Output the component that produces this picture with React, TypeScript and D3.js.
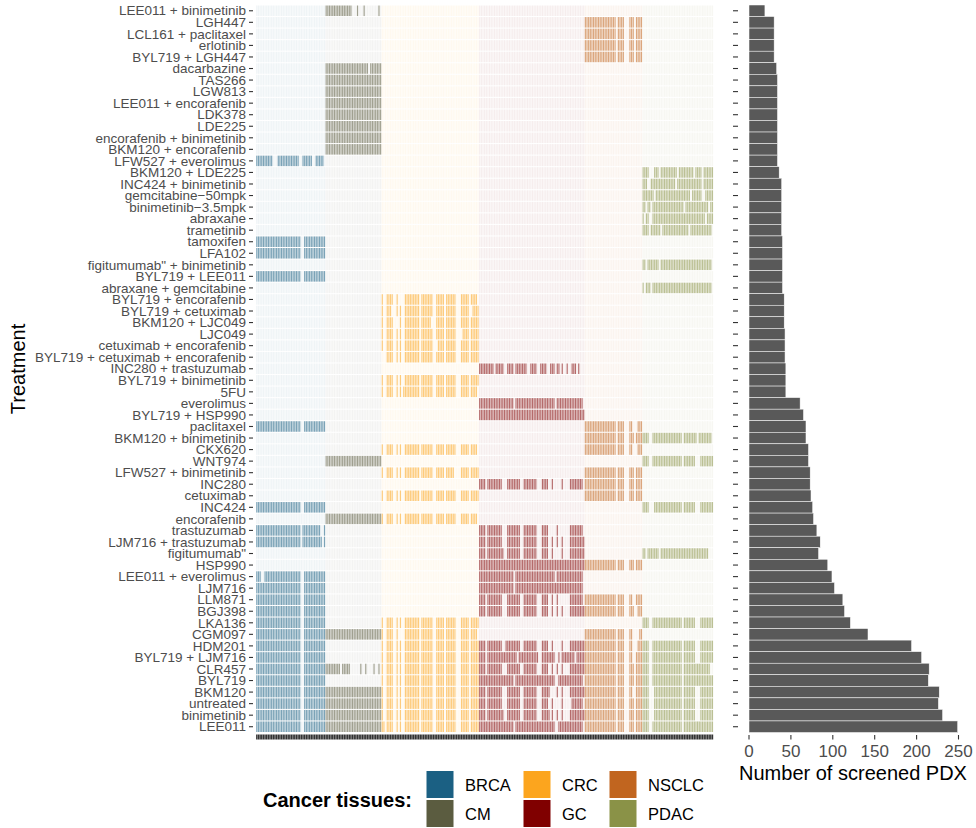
import React, { useEffect, useRef } from 'react';
import * as d3 from 'd3';

// treatments, top to bottom
const treatments = [
  'LEE011 + binimetinib', 'LGH447', 'LCL161 + paclitaxel', 'erlotinib', 'BYL719 + LGH447',
  'dacarbazine', 'TAS266', 'LGW813', 'LEE011 + encorafenib', 'LDK378', 'LDE225',
  'encorafenib + binimetinib', 'BKM120 + encorafenib', 'LFW527 + everolimus', 'BKM120 + LDE225',
  'INC424 + binimetinib', 'gemcitabine\u221250mpk', 'binimetinib\u22123.5mpk', 'abraxane', 'trametinib',
  'tamoxifen', 'LFA102', 'figitumumab" + binimetinib', 'BYL719 + LEE011', 'abraxane + gemcitabine',
  'BYL719 + encorafenib', 'BYL719 + cetuximab', 'BKM120 + LJC049', 'LJC049', 'cetuximab + encorafenib',
  'BYL719 + cetuximab + encorafenib', 'INC280 + trastuzumab', 'BYL719 + binimetinib', '5FU', 'everolimus',
  'BYL719 + HSP990', 'paclitaxel', 'BKM120 + binimetinib', 'CKX620', 'WNT974', 'LFW527 + binimetinib',
  'INC280', 'cetuximab', 'INC424', 'encorafenib', 'trastuzumab', 'LJM716 + trastuzumab', 'figitumumab"',
  'HSP990', 'LEE011 + everolimus', 'LJM716', 'LLM871', 'BGJ398', 'LKA136', 'CGM097', 'HDM201',
  'BYL719 + LJM716', 'CLR457', 'BYL719', 'BKM120', 'untreated', 'binimetinib', 'LEE011',
];

// number of screened PDX per treatment (same order)
const screenedPdx = [
  19, 30, 30, 30, 30, 33, 34, 34, 34, 34, 34, 34, 34, 34, 36, 39, 39, 39, 39, 39,
  40, 40, 40, 40, 40, 42, 42, 42, 43, 43, 43, 44, 44, 44, 61, 65, 68, 68, 71, 71,
  73, 73, 74, 76, 77, 81, 85, 83, 94, 99, 102, 112, 114, 121, 142, 194, 206, 215, 214, 227,
  226, 231, 249,
];

const tissues = ['BRCA', 'CM', 'CRC', 'GC', 'NSCLC', 'PDAC'];
const tissueColors = ['#1B6083', '#5B5C40', '#FCA51E', '#800000', '#C1651F', '#8A9247'];
const modelsPerTissue = [42, 34, 59, 64, 35, 43];

// screened models per treatment: "TISSUE:index ranges|TISSUE:..."
const screenedModels = [
  'CM:0-15,19,23,32',
  'NSCLC:0-18,20-23,27-29,31-34',
  'NSCLC:0-18,20-23,27-29,31-34',
  'NSCLC:0-18,20-23,27-29,31-34',
  'NSCLC:0-18,20-23,27-29,31-34',
  'CM:0-25,27-33',
  'CM:0-33',
  'CM:0-33',
  'CM:0-33',
  'CM:0-33',
  'CM:0-33',
  'CM:0-33',
  'CM:0-33',
  'BRCA:0-9,13-25,28-33,36-40',
  'PDAC:0-3,7-9,11-20,22-30,32-35,37-42',
  'PDAC:0-2,5-19,21-35,37-42',
  'PDAC:0-6,8-28,30-35,38-42',
  'PDAC:0-1,3-4,6-24,26-39,41-42',
  'PDAC:0,2-3,6-37,39-42',
  'PDAC:0-3,5-10,12-27,29-41',
  'BRCA:0-26,29-41',
  'BRCA:0-26,29-41',
  'PDAC:0-1,3-9,11-41',
  'BRCA:0-26,29-41',
  'PDAC:0,2-4,6-41',
  'CRC:0,3-6,9,14-22,24-30,33-37,39-44,48-52,54-57',
  'CRC:0,3-5,9,11,14-22,24-30,33-37,39-44,48-52,55-58',
  'CRC:0,3-6,11,14-22,24-29,33-37,39-44,48-52,54-58',
  'CRC:0,3-6,9,11,14-22,24-30,33-37,39-44,49-52,54-58',
  'CRC:0,3-6,9,11,14-22,24-30,34-37,39-44,48-52,54-58',
  'CRC:3-6,9,11,14-22,24-30,33-37,39-44,48-52,54-58',
  'GC:0-8,10-14,17-20,22-28,31-34,37-40,43-45,47-48,50,53,56-58,60',
  'CRC:0,3-6,9,11,14-22,24-30,33-37,39-44,48-52,54-58',
  'CRC:0,3-6,9,11,13-22,24-30,33-37,39-44,48-52,54-57',
  'GC:0-20,22-45,47-62',
  'GC:0-63',
  'BRCA:0-26,29-41|NSCLC:0-18,20-23,27-28,32-34',
  'NSCLC:0-18,20-23,27-29,31-34|PDAC:0-3,6-23,25-32,34-41',
  'CRC:0,3-6,9,11,14-22,24-30,33-37,39-44,48-52,54-57|NSCLC:0-18,20-23,27-28,32-34',
  'CM:0-33|PDAC:0-3,6-23,25-31,35-42',
  'CRC:0,3-6,9,11,14-22,24-30,33-37,39-43,48-52,54-58|NSCLC:0-18,20-23,27-29,31-34',
  'GC:0-3,5-13,17-24,27-34,38-41,44,50,55-62|NSCLC:0-18,20-23,27-29,31-34',
  'CRC:0,3-6,9,11,14-22,24-30,33-37,39-44,48-52,54-58|NSCLC:0-18,20-23,27-29,31-34',
  'BRCA:0-26,29-41|PDAC:0-3,7-23,25-31,35-42',
  'CM:0-33|CRC:0,3-6,9,11,14-22,24-30,33-37,39-44,48-52,54-57',
  'BRCA:0-26,28-38,41|GC:0-3,5-13,17-24,27-34,38-41,47,55-62',
  'BRCA:0-26,28-39,41|GC:0-3,5-13,17-24,27-34,38-41,44,47,50,55-63',
  'GC:0-3,5-14,17-24,27-34,38-41,44,50,55-63|PDAC:0-1,3-9,11-39',
  'GC:0-63|NSCLC:0-18,20-23,27-29,31-34',
  'BRCA:0-2,5-26,29-41|GC:0-20,22-45,47-62',
  'BRCA:0-26,29-41|GC:0-20,22-62',
  'BRCA:0-26,29-41|GC:0-3,5-13,17-24,27-34,38-41,44,47,55-62|NSCLC:0-18,20-23,27-28,31-34',
  'BRCA:0-26,29-41|GC:0-3,5-13,17-24,27-34,38-41,44,47,50,55-63|NSCLC:0-18,20-23,27-29,32-34',
  'BRCA:0-26,29-41|CRC:0,3-6,9,11,14-22,24-30,33-37,39-44,48-52,54-58|PDAC:0-3,6-23,25-31,35-42',
  'BRCA:0-26,29-41|CM:0-33|CRC:0,3-6,9,14-22,24-30,33-37,39-44,48-52,54-57|NSCLC:0-18,20-23,27-28,33-34',
  'BRCA:0-26,29-41|CRC:0,3-6,9,11,14-22,24-30,33-37,39-44,48-52,54-58|GC:0-3,5-13,16-24,27-34,38-41,44,50,55-63|NSCLC:0-18,20-23,27-28,32-34|PDAC:0-3,6-23,25-31,35-42',
  'BRCA:0-26,29-41|CRC:0,3-6,9,11,14-22,24-30,33-37,39-44,48-52,54-58|GC:0-3,5-22,24-35,38-45,48,50-57,59-63|NSCLC:0-18,20-23,27-28,31-34|PDAC:0-3,6-23,25-31,35-42',
  'BRCA:0-26,29-41|CM:0-8,10-14,21,24,29,32|CRC:0,3-6,9,11,14-22,24-30,33-37,39-44,48-52,54-58|GC:0-3,5-13,17-24,27-34,38-41,44,47,50,55-63|NSCLC:0-18,20-23,27-29,31-34|PDAC:0-3,6-23,25-40',
  'BRCA:0-26,29-41|CRC:0,3-6,9,11,14-22,24-30,33-37,39-44,48-52,54-58|GC:0-20,22-45,48-62|NSCLC:0-18,20-23,27-29,31-34|PDAC:0-3,6-23,25-42',
  'BRCA:0-26,29-41|CM:0-33|CRC:0,3-6,9,11,14-22,24-30,33-37,39-44,48-52,54-58|GC:0-3,5-13,17-24,27-34,38-42,47,50,55-63|NSCLC:0-18,20-23,27-28,31-34|PDAC:0-3,7-23,25-31,35-42',
  'BRCA:0-26,29-41|CM:0-33|CRC:0,3-6,9,11,14-22,24-30,33-37,39-44,48-52,54-58|GC:0-3,5-13,17-24,27-34,38-41,44,50,56-62|NSCLC:0-18,20-23,27-29,31-34|PDAC:0-3,7-23,25-31,35-42',
  'BRCA:0-26,29-41|CM:0-33|CRC:0,3-6,9,11,14-22,24-30,33-37,39-44,48-52,54-58|GC:0-3,5-14,17-24,27-34,38-42,44,47,50,55-63|NSCLC:0-18,20-23,27-29,31-34|PDAC:0-3,7-23,25-31,35-42',
  'BRCA:0-26,29-41|CM:0-33|CRC:0-1,3-6,9,11,14-22,24-30,33-37,39-44,48-52,54-58|GC:0-20,22-45,48-62|NSCLC:0-18,20-23,27-29,31-34|PDAC:0-3,6-23,25-42',
];

const barTicks = [0, 50, 100, 150, 200, 250];

function parseRanges(s: string): Set<number> {
  const out = new Set<number>();
  s.split(',').forEach((part) => {
    const [a, b] = part.split('-').map(Number);
    if (b === undefined || isNaN(b)) out.add(a);
    else for (let k = a; k <= b; k++) out.add(k);
  });
  return out;
}

function App() {
  const svgRef = useRef<SVGSVGElement>(null);

  useEffect(() => {
    if (!svgRef.current) return;
    const svg = d3.select(svgRef.current);
    svg.selectAll('*').remove();
    const font = '"Liberation Sans", Arial, sans-serif';

    // model ids in tissue order
    const models: { id: string; tissue: number; idx: number }[] = [];
    tissues.forEach((t, ti) => {
      for (let k = 0; k < modelsPerTissue[ti]; k++) models.push({ id: `${t}-${k}`, tissue: ti, idx: k });
    });

    const x = d3.scaleBand<string>().domain(models.map((m) => m.id)).range([256, 713.3]);
    const y = d3.scaleBand<string>().domain(treatments).range([5, 732.5]);

    const cells: { row: string; model: string; tissue: number; on: boolean }[] = [];
    treatments.forEach((t, i) => {
      const sets: Record<string, Set<number>> = {};
      screenedModels[i].split('|').forEach((seg) => {
        const [tis, r] = seg.split(':');
        sets[tis] = parseRanges(r);
      });
      models.forEach((m) => {
        const s = sets[tissues[m.tissue]];
        cells.push({ row: t, model: m.id, tissue: m.tissue, on: !!s && s.has(m.idx) });
      });
    });

    // tiles
    const bw = x.bandwidth();
    svg.append('g')
      .selectAll('rect')
      .data(cells)
      .enter()
      .append('rect')
      .attr('x', (d) => (x(d.model) as number) + 0.22)
      .attr('y', (d) => (y(d.row) as number) + 0.5)
      .attr('width', bw - 0.45)
      .attr('height', y.bandwidth() - 1)
      .attr('fill', (d) => tissueColors[d.tissue])
      .attr('fill-opacity', (d) => (d.on ? 0.58 : 0.07));

    // heatmap y axis
    const yAxis = svg.append('g');
    yAxis.selectAll('line')
      .data(treatments)
      .enter()
      .append('line')
      .attr('x1', 249).attr('x2', 253)
      .attr('y1', (d) => (y(d) as number) + y.bandwidth() / 2)
      .attr('y2', (d) => (y(d) as number) + y.bandwidth() / 2)
      .attr('stroke', '#333').attr('stroke-width', 1.1);
    yAxis.selectAll('text')
      .data(treatments)
      .enter()
      .append('text')
      .attr('x', 246)
      .attr('y', (d) => (y(d) as number) + y.bandwidth() / 2)
      .attr('dy', '0.35em')
      .attr('text-anchor', 'end')
      .attr('font-family', font)
      .attr('font-size', 13.5)
      .attr('fill', '#4D4D4D')
      .text((d) => d);

    svg.append('text')
      .attr('transform', 'translate(25,369) rotate(-90)')
      .attr('text-anchor', 'middle')
      .attr('font-family', font)
      .attr('font-size', 20)
      .attr('fill', '#000')
      .text('Treatment');

    // heatmap x ticks (one per model, no labels)
    svg.append('g')
      .selectAll('line')
      .data(models)
      .enter()
      .append('line')
      .attr('x1', (d) => (x(d.id) as number) + bw / 2)
      .attr('x2', (d) => (x(d.id) as number) + bw / 2)
      .attr('y1', 734.5).attr('y2', 739.5)
      .attr('stroke', '#333').attr('stroke-width', 1.45);

    // bar chart
    const xb = d3.scaleLinear().domain([0, 250]).range([749, 958.5]);
    const bars = svg.append('g');
    bars.selectAll('rect')
      .data(treatments)
      .enter()
      .append('rect')
      .attr('x', xb(0))
      .attr('y', (d) => y(d) as number)
      .attr('width', (_, i) => xb(screenedPdx[i]) - xb(0))
      .attr('height', y.bandwidth())
      .attr('fill', '#595959')
      .attr('stroke', '#fff')
      .attr('stroke-width', 0.5);
    bars.selectAll('line')
      .data(treatments)
      .enter()
      .append('line')
      .attr('x1', 733).attr('x2', 738)
      .attr('y1', (d) => (y(d) as number) + y.bandwidth() / 2)
      .attr('y2', (d) => (y(d) as number) + y.bandwidth() / 2)
      .attr('stroke', '#333').attr('stroke-width', 1.1);

    const xAxis = svg.append('g');
    xAxis.selectAll('line')
      .data(barTicks)
      .enter()
      .append('line')
      .attr('x1', (d) => xb(d)).attr('x2', (d) => xb(d))
      .attr('y1', 735).attr('y2', 739.5)
      .attr('stroke', '#333').attr('stroke-width', 1.1);
    xAxis.selectAll('text')
      .data(barTicks)
      .enter()
      .append('text')
      .attr('x', (d) => xb(d))
      .attr('y', 751)
      .attr('dy', '0.35em')
      .attr('text-anchor', 'middle')
      .attr('font-family', font)
      .attr('font-size', 17)
      .attr('fill', '#4D4D4D')
      .text((d) => d);
    svg.append('text')
      .attr('x', 853)
      .attr('y', 773)
      .attr('dy', '0.35em')
      .attr('text-anchor', 'middle')
      .attr('font-family', font)
      .attr('font-size', 20)
      .attr('fill', '#000')
      .text('Number of screened PDX');

    // legend
    const legend = svg.append('g');
    legend.append('text')
      .attr('x', 263).attr('y', 800).attr('dy', '0.35em')
      .attr('font-family', font).attr('font-size', 20).attr('font-weight', 'bold')
      .attr('fill', '#000')
      .text('Cancer tissues:');
    const keyX = [426, 523, 609];
    const keyY = [770.5, 799.5];
    tissues.forEach((t, i) => {
      const c = Math.floor(i / 2);
      const r = i % 2;
      legend.append('rect')
        .attr('x', keyX[c]).attr('y', keyY[r])
        .attr('width', 28).attr('height', 28)
        .attr('fill', tissueColors[i])
        .attr('stroke', '#fff').attr('stroke-width', 1);
      legend.append('text')
        .attr('x', keyX[c] + 39).attr('y', keyY[r] + 14.5).attr('dy', '0.35em')
        .attr('font-family', font).attr('font-size', 16.5)
        .attr('fill', '#000')
        .text(t);
    });
  }, []);

  return (
    <svg
      ref={svgRef}
      width={976}
      height={828}
      style={{ position: 'absolute', left: 0, top: 0, background: '#fff' }}
    />
  );
}

export default App;
